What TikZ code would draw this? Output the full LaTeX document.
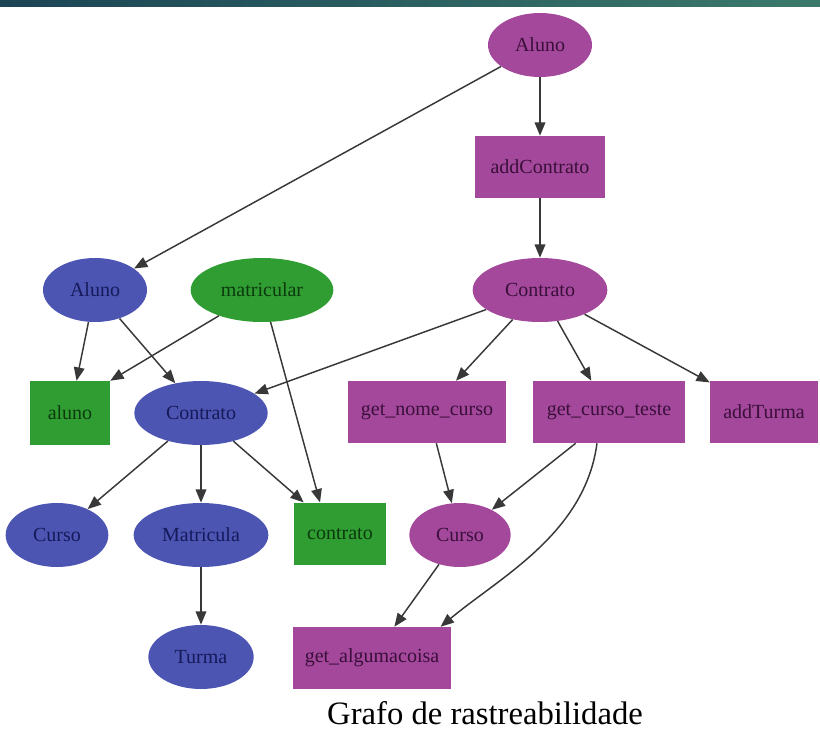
\documentclass[tikz,border=0pt]{standalone}
\usepackage{fontspec}
\setmainfont{Liberation Serif}
\usetikzlibrary{shapes.geometric,arrows.meta}
\definecolor{purp}{HTML}{A4489C}
\definecolor{purptxt}{HTML}{3A0F3A}
\definecolor{blu}{HTML}{4D55B3}
\definecolor{blutxt}{HTML}{151A5A}
\definecolor{grn}{HTML}{2F9D32}
\definecolor{grntxt}{HTML}{0C3A0D}
\definecolor{edgegray}{HTML}{383838}
\definecolor{barleft}{HTML}{1B4455}
\definecolor{barright}{HTML}{3B7A6B}
\tikzset{
  base/.style={inner sep=0pt, font=\fontsize{15}{17}\selectfont},
  pell/.style={base, ellipse, fill=purp, text=purptxt, minimum width=78pt, minimum height=48pt},
  bell/.style={base, ellipse, fill=blu, text=blutxt, minimum width=78pt, minimum height=48pt},
  gell/.style={base, ellipse, fill=grn, text=grntxt, minimum width=107pt, minimum height=48pt},
  pbox/.style={base, rectangle, fill=purp, text=purptxt, minimum height=46.5pt},
  gbox/.style={base, rectangle, fill=grn, text=grntxt, minimum height=47pt},
  edge/.style={draw=edgegray, line width=1.1pt, -{Triangle[length=10pt,width=8pt]}}
}
\begin{document}
\begin{tikzpicture}[x=0.75pt,y=-0.75pt]
\useasboundingbox (0,0) rectangle (820,731);
% header band
\shade[left color=barleft, right color=barright] (0,0) rectangle (820,7);

% purple chain
\node[pell] (alunoP) at (540,45) {Aluno};
\node[pbox, minimum width=97.5pt] (addC) at (540,167) {addContrato};
\node[pell, minimum width=101pt] (contP) at (540,290) {Contrato};
\node[pbox, minimum width=119pt] (gnc) at (427,412) {get\_nome\_curso};
\node[pbox, minimum width=114pt] (gct) at (609,412) {get\_curso\_teste};
\node[pbox, minimum width=81pt] (addT) at (764,412) {addTurma};
\node[pell, minimum width=76pt] (cursoP) at (460,535) {Curso};
\node[pbox, minimum width=118.5pt] (galg) at (372,658) {get\_algumacoisa};

% blue / green part
\node[bell] (alunoB) at (95,290) {Aluno};
\node[gell] (matr) at (262,290) {matricular};
\node[gbox, minimum width=60pt, minimum height=48pt] (alunoG) at (70,413) {aluno};
\node[bell, minimum width=100pt] (contB) at (201,413) {Contrato};
\node[bell, minimum width=77pt] (cursoB) at (57,535) {Curso};
\node[bell, minimum width=101pt] (matB) at (201,535) {Matricula};
\node[gbox, minimum width=69pt] (contG) at (340,534) {contrato};
\node[bell, minimum width=79pt] (turma) at (201,657) {Turma};

% caption
\node[font=\fontsize{24.5}{28}\selectfont, inner sep=0pt] (cap) at (485,713) {Grafo de rastreabilidade};

% edges
\draw[edge] (alunoP) -- (alunoB);
\draw[edge] (alunoP) -- (addC);
\draw[edge] (addC) -- (contP);
\draw[edge] (contP) -- (contB);
\draw[edge] (contP) -- (gnc);
\draw[edge] (contP) -- (gct);
\draw[edge] (contP) -- (addT);
\draw[edge] (alunoB) -- (alunoG);
\draw[edge] (alunoB) -- (contB);
\draw[edge] (matr) -- (alunoG.north east);
\draw[edge] (matr.-75) -- ([xshift=-15pt]contG.north);
\draw[edge] (contB) -- (cursoB);
\draw[edge] (contB) -- (matB);
\draw[edge] (contB) -- (contG);
\draw[edge] (matB) -- (turma);
\draw[edge] ([xshift=7pt]gnc.south) -- (cursoP);
\draw[edge] ([xshift=-25pt]gct.south) -- (cursoP);
\draw[edge] ([xshift=-9pt]gct.south) .. controls +(-12,90) and +(60,-50) .. ([xshift=-8pt]galg.north east);
\draw[edge] (cursoP) -- (galg);
\end{tikzpicture}
\end{document}
